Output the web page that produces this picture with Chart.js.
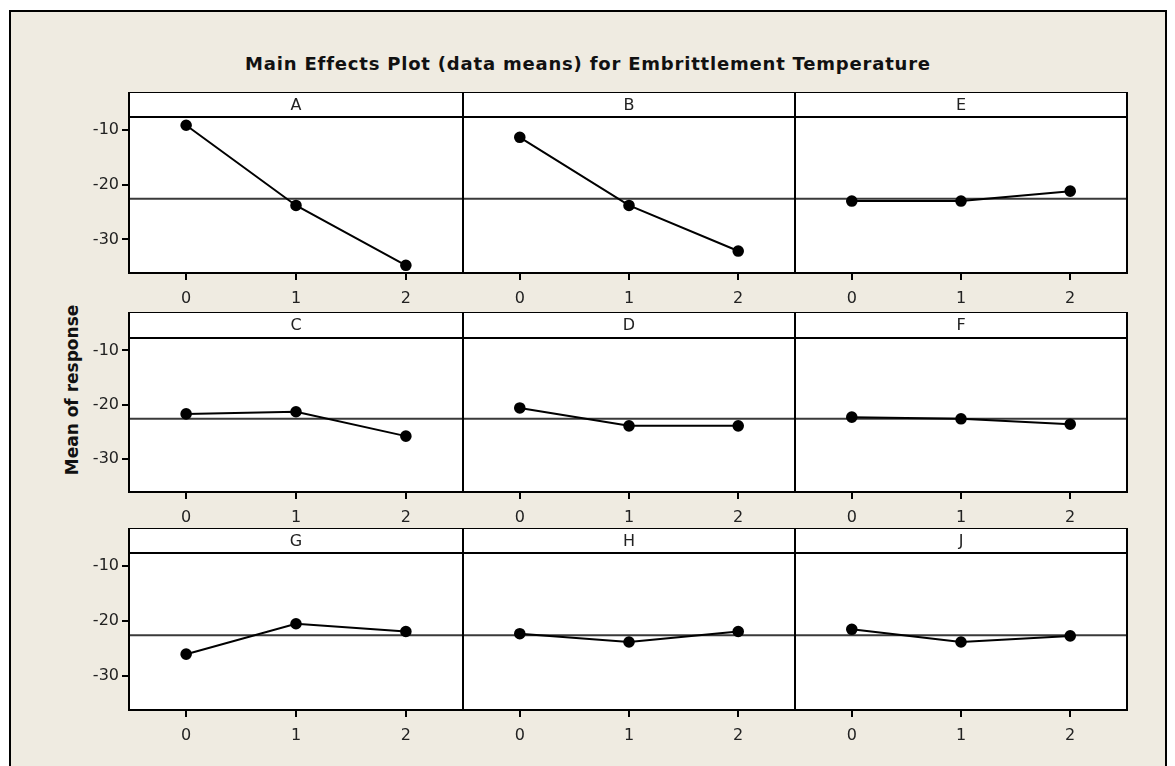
<!DOCTYPE html>
<html>
<head>
<meta charset="utf-8">
<script src="https://cdn.jsdelivr.net/npm/chart.js@4"></script>
<style>
  body { margin: 0; background: #fff; width: 1175px; height: 766px; overflow: hidden; position: relative; }
  #frame { position: absolute; left: 9px; top: 10px; width: 1154px; height: 780px; background: #efebe1; border: 2px solid #000; }
  #title { position: absolute; left: 9px; width: 1158px; top: 53px; text-align: center; font: bold 18px "DejaVu Sans"; color: #111; letter-spacing: 0.8px; }
  #ylabel { position: absolute; left: 72px; top: 390px; transform: translate(-50%, -50%) rotate(-90deg); font: bold 17px "DejaVu Sans"; color: #111; white-space: nowrap; }
  canvas { position: absolute; }
</style>
</head>
<body>
<div id="frame"></div>
<div id="title">Main Effects Plot (data means) for Embrittlement Temperature</div>
<div id="ylabel">Mean of response</div>
<script>
// factor levels and means
const levels = [0, 1, 2];
const factorNames = ['A', 'B', 'E', 'C', 'D', 'F', 'G', 'H', 'J'];
const meanA = [-9.2, -23.8, -34.7];
const meanB = [-11.4, -23.8, -32.1];
const meanE = [-23.0, -23.0, -21.2];
const meanC = [-21.7, -21.3, -25.8];
const meanD = [-20.6, -23.9, -23.9];
const meanF = [-22.3, -22.6, -23.6];
const meanG = [-26.0, -20.5, -21.9];
const meanH = [-22.3, -23.8, -21.9];
const meanJ = [-21.5, -23.8, -22.7];
const grandMean = -22.6;
const yTicks = [-10, -20, -30];

const panelMeans = [meanA, meanB, meanE, meanC, meanD, meanF, meanG, meanH, meanJ];

// panel geometry
const colLeft = [129, 463, 795];
const colRight = [463, 795, 1127];
const headTop = [92, 312, 528];
const plotTop = [117, 338, 553];
const plotBottom = [273, 492, 710];

Chart.defaults.font.family = 'DejaVu Sans';
Chart.defaults.font.size = 16;
Chart.defaults.color = '#222';

const panelPlugin = {
  id: 'panel',
  beforeDraw(chart, args, opts) {
    const ctx = chart.ctx;
    const a = chart.chartArea;
    const hTop = a.top - opts.headH;
    ctx.save();
    ctx.fillStyle = '#fff';
    ctx.fillRect(a.left, hTop, a.right - a.left, a.bottom - hTop);
    ctx.fillStyle = '#222';
    ctx.font = '16px "DejaVu Sans"';
    ctx.textAlign = 'center';
    ctx.textBaseline = 'middle';
    ctx.fillText(opts.name, (a.left + a.right) / 2, hTop + opts.headH / 2 + 1);
    ctx.restore();
  },
  beforeDatasetsDraw(chart) {
    const ctx = chart.ctx;
    const a = chart.chartArea;
    const y = chart.scales.y.getPixelForValue(grandMean);
    ctx.save();
    ctx.strokeStyle = '#3a3a3a';
    ctx.lineWidth = 2;
    ctx.beginPath();
    ctx.moveTo(a.left, y);
    ctx.lineTo(a.right, y);
    ctx.stroke();
    ctx.restore();
  },
  afterDraw(chart, args, opts) {
    const ctx = chart.ctx;
    const a = chart.chartArea;
    const hTop = a.top - opts.headH;
    ctx.save();
    ctx.strokeStyle = '#000';
    ctx.lineWidth = 2;
    ctx.strokeRect(a.left, hTop, a.right - a.left, a.bottom - hTop);
    ctx.beginPath();
    ctx.moveTo(a.left, a.top);
    ctx.lineTo(a.right, a.top);
    ctx.stroke();
    ctx.restore();
  }
};

panelMeans.forEach((means, i) => {
  const r = Math.floor(i / 3), c = i % 3;
  const leftPad = 60, rightPad = 10, bottomH = 45;
  const headH = plotTop[r] - headTop[r];
  const w = colRight[c] - colLeft[c] + leftPad + rightPad;
  const h = plotBottom[r] - headTop[r] + bottomH;
  const cv = document.createElement('canvas');
  cv.width = w; cv.height = h;
  cv.style.left = (colLeft[c] - leftPad) + 'px';
  cv.style.top = headTop[r] + 'px';
  cv.style.width = w + 'px'; cv.style.height = h + 'px';
  document.body.appendChild(cv);

  new Chart(cv.getContext('2d'), {
    type: 'line',
    data: {
      datasets: [{
        data: levels.map((lv, k) => ({ x: lv, y: means[k] })),
        borderColor: '#000',
        backgroundColor: '#000',
        borderWidth: 2,
        pointRadius: 4.8,
        pointHoverRadius: 4.8,
        tension: 0
      }]
    },
    options: {
      responsive: false,
      animation: false,
      layout: { padding: { top: headH, right: rightPad, left: 0, bottom: 0 } },
      plugins: {
        legend: { display: false },
        tooltip: { enabled: false },
        panel: { name: factorNames[i], headH: headH }
      },
      scales: {
        x: {
          type: 'linear',
          min: -0.52,
          max: 2.52,
          afterBuildTicks: s => { s.ticks = levels.map(v => ({ value: v })); },
          afterFit: s => { s.height = bottomH; },
          grid: { drawOnChartArea: false, tickLength: 7, color: '#000', lineWidth: 2 },
          border: { display: false },
          ticks: { padding: 9, color: '#222', font: { size: 16 } }
        },
        y: {
          min: -36.1,
          max: -7.7,
          afterBuildTicks: s => { s.ticks = yTicks.map(v => ({ value: v })); },
          afterFit: s => { s.width = leftPad; },
          grid: { display: c === 0, drawOnChartArea: false, tickLength: 7, color: '#000', lineWidth: 2 },
          border: { display: false },
          ticks: { display: c === 0, padding: 3, color: '#222', font: { size: 16 } }
        }
      }
    },
    plugins: [panelPlugin]
  });
});
</script>
</body>
</html>
